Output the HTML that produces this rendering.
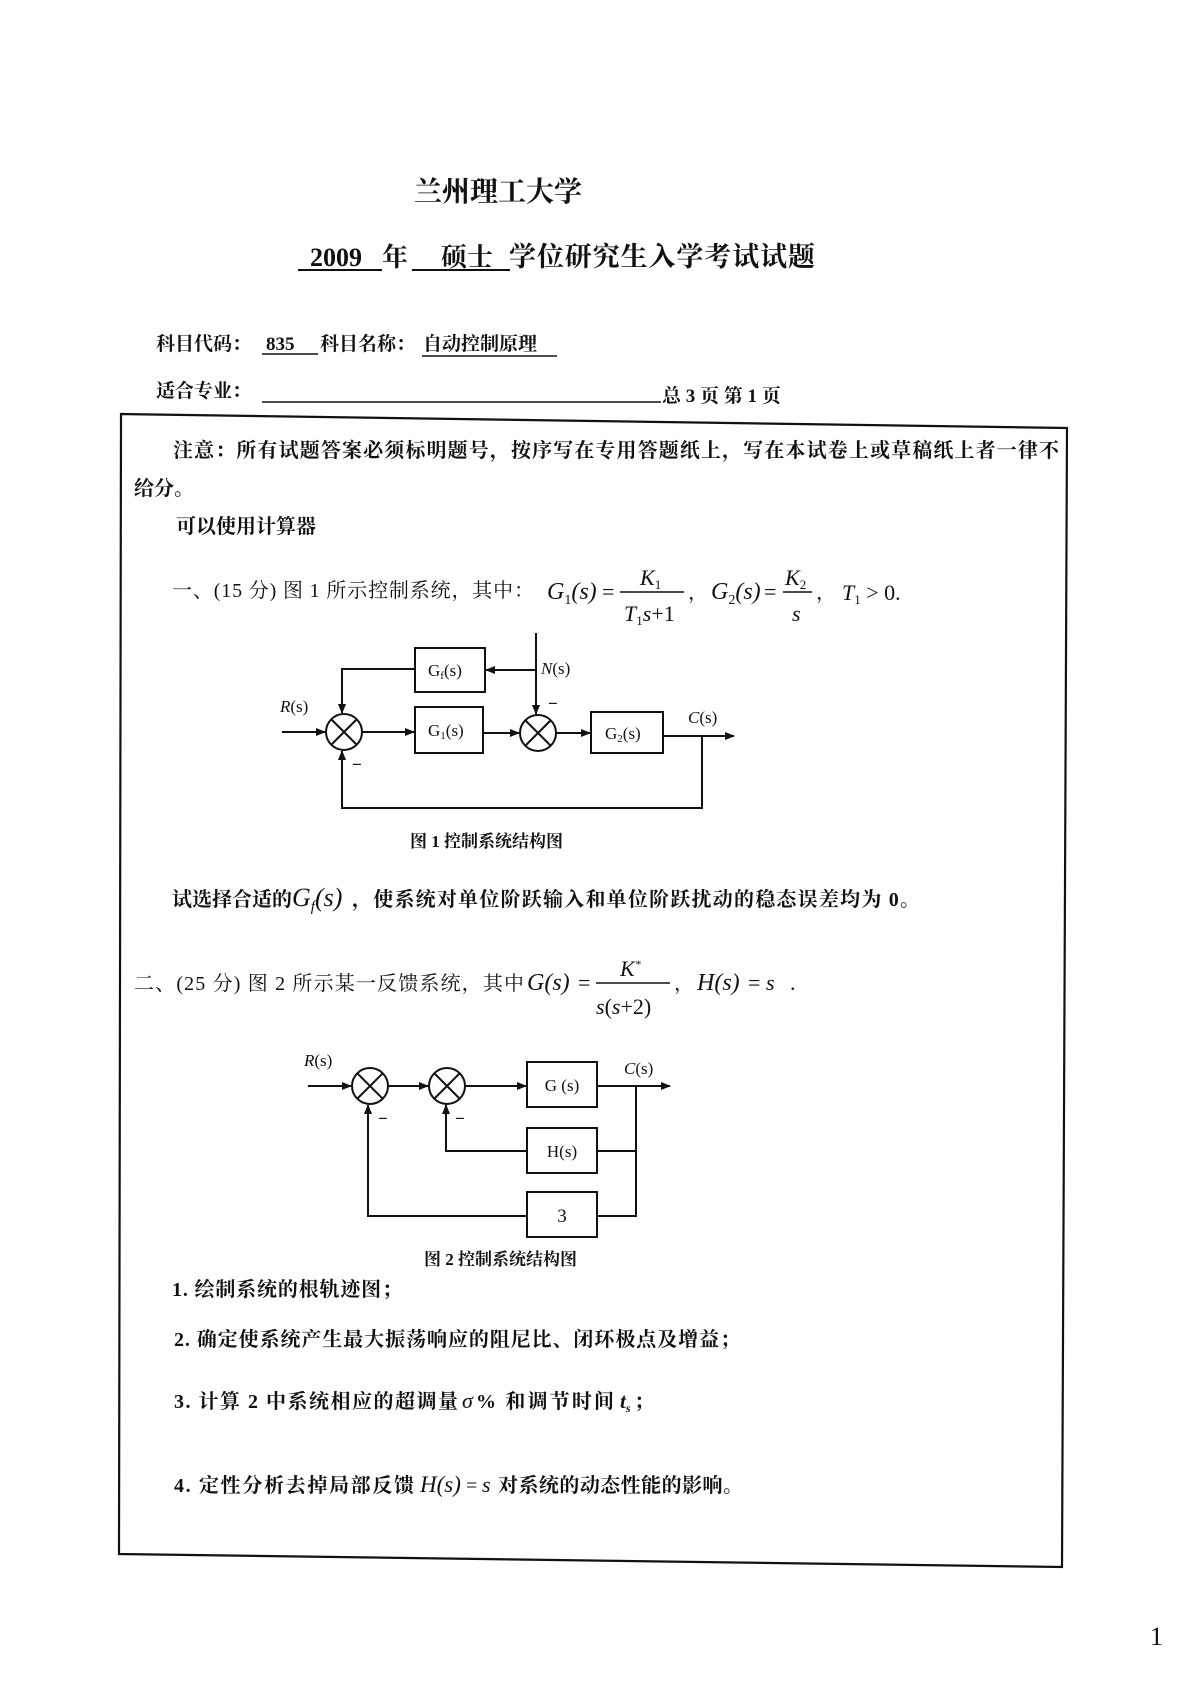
<!DOCTYPE html>
<html><head><meta charset="utf-8"><style>
html,body{margin:0;padding:0;background:#fff}
svg{display:block}
text{font-family:"Liberation Serif","Noto Serif CJK SC","Noto Sans CJK SC",serif;fill:#111}
.b{font-weight:bold}
.m{font-family:"Liberation Serif",serif;font-style:italic}
</style></head><body>
<svg width="1190" height="1683" viewBox="0 0 1190 1683" xmlns="http://www.w3.org/2000/svg">
<defs><marker id="a" markerWidth="10" markerHeight="10" refX="9" refY="5" orient="auto" markerUnits="userSpaceOnUse"><path d="M0,1 L10,5 L0,9 z" fill="#111"/></marker></defs>
<rect x="0" y="0" width="1190" height="1683" fill="#fff"/>
<g class="b">
<text x="498" y="201" font-size="28" text-anchor="middle">兰州理工大学</text>
<text x="310" y="266" font-size="26">2009</text>
<text x="382" y="266" font-size="26">年</text>
<text x="441" y="266" font-size="26">硕士</text>
<text x="509" y="266" font-size="27" textLength="306">学位研究生入学考试试题</text>
</g>
<g stroke="#111" stroke-width="2"><line x1="298" y1="270" x2="382" y2="270"/><line x1="412" y1="270" x2="510" y2="270"/></g>
<g font-size="19" class="b">
<text x="156" y="350">科目代码：</text><text x="266" y="350">835</text><text x="320" y="350">科目名称：</text><text x="423" y="350">自动控制原理</text>
<text x="156" y="397">适合专业：</text><text x="662" y="402">总 3 页  第 1 页</text>
</g>
<g stroke="#111" stroke-width="1.6"><line x1="262" y1="354" x2="318" y2="354"/><line x1="422" y1="356" x2="557" y2="356"/><line x1="262" y1="402" x2="661" y2="402"/></g>
<path d="M121,414 L1067,428 L1062,1567 L119,1554 Z" fill="none" stroke="#111" stroke-width="2.2"/>
<g font-size="20" class="b">
<text x="173" y="457" textLength="886">注意：所有试题答案必须标明题号，按序写在专用答题纸上，写在本试卷上或草稿纸上者一律不</text>
<text x="134" y="495">给分。</text>
<text x="176" y="533">可以使用计算器</text>
</g>
<g font-size="20">
<text x="172" y="597" textLength="362">一、(15 分) 图 1 所示控制系统，其中：</text>
<text x="547" y="599" class="m" font-size="24">G<tspan font-size="14" font-style="normal" dy="5">1</tspan><tspan dy="-5">(s)</tspan></text>
<text x="602" y="599" font-size="22">=</text>
<line x1="620" y1="592" x2="684" y2="592" stroke="#111" stroke-width="1.5"/>
<text x="640" y="585" class="m" font-size="22">K<tspan font-size="13" font-style="normal" dy="4">1</tspan></text>
<text x="624" y="621" class="m" font-size="22">T<tspan font-size="13" font-style="normal" dy="4">1</tspan><tspan dy="-4">s</tspan><tspan font-style="normal">+1</tspan></text>
<text x="688" y="599">，</text>
<text x="711" y="599" class="m" font-size="24">G<tspan font-size="14" font-style="normal" dy="5">2</tspan><tspan dy="-5">(s)</tspan></text>
<text x="764" y="599" font-size="22">=</text>
<line x1="783" y1="592" x2="812" y2="592" stroke="#111" stroke-width="1.5"/>
<text x="785" y="585" class="m" font-size="22">K<tspan font-size="13" font-style="normal" dy="4">2</tspan></text>
<text x="792" y="621" class="m" font-size="22">s</text>
<text x="816" y="599">，</text>
<text x="842" y="600" class="m" font-size="22">T<tspan font-size="13" font-style="normal" dy="4">1</tspan><tspan dy="-4" font-style="normal"> &gt; 0.</tspan></text>
</g>
<!-- Diagram 1 -->
<g stroke="#111" stroke-width="2" fill="none">
<rect x="415" y="648" width="70" height="44"/>
<rect x="415" y="707" width="68" height="46"/>
<rect x="591" y="712" width="72" height="41"/>
<circle cx="344" cy="732" r="18"/><path d="M331,719 L357,745 M357,719 L331,745"/>
<circle cx="538" cy="733" r="18"/><path d="M525,720 L551,746 M551,720 L525,746"/>
<line x1="282" y1="732" x2="325" y2="732" marker-end="url(#a)"/>
<line x1="362" y1="732" x2="414" y2="732" marker-end="url(#a)"/>
<line x1="483" y1="733" x2="519" y2="733" marker-end="url(#a)"/>
<line x1="556" y1="733" x2="590" y2="733" marker-end="url(#a)"/>
<line x1="663" y1="736" x2="734" y2="736" marker-end="url(#a)"/>
<line x1="536" y1="633" x2="536" y2="714" marker-end="url(#a)"/>
<line x1="536" y1="670" x2="486" y2="670" marker-end="url(#a)"/>
<polyline points="415,669 342,669 342,713" marker-end="url(#a)"/>
<polyline points="702,736 702,808 342,808 342,751" marker-end="url(#a)"/>
</g>
<g font-size="17">
<text x="428" y="676">G<tspan font-size="11" dy="3">f</tspan><tspan dy="-3">(s)</tspan></text>
<text x="428" y="736">G<tspan font-size="11" dy="3">1</tspan><tspan dy="-3">(s)</tspan></text>
<text x="605" y="739">G<tspan font-size="11" dy="3">2</tspan><tspan dy="-3">(s)</tspan></text>
<text x="541" y="674" class="m">N<tspan font-style="normal">(s)</tspan></text>
<text x="280" y="712" class="m">R<tspan font-style="normal">(s)</tspan></text>
<text x="688" y="723" class="m">C<tspan font-style="normal">(s)</tspan></text>
<text x="548" y="709" class="b">−</text>
<text x="352" y="770" class="b">−</text>
<text x="410" y="847" class="b" font-size="17">图 1   控制系统结构图</text>
</g>
<g font-size="20" class="b">
<text x="172" y="906">试选择合适的</text>
<text x="292" y="906" class="m" font-size="26" font-weight="normal">G<tspan font-size="15" dy="5">f</tspan><tspan dy="-5">(s)</tspan></text>
<text x="352" y="906" textLength="568">，使系统对单位阶跃输入和单位阶跃扰动的稳态误差均为 0。</text>
</g>
<g font-size="20">
<text x="134" y="990" textLength="390">二、(25 分) 图 2 所示某一反馈系统，其中</text>
<text x="527" y="990" class="m" font-size="24">G(s)</text>
<text x="578" y="990" font-size="22">=</text>
<line x1="596" y1="983" x2="670" y2="983" stroke="#111" stroke-width="1.5"/>
<text x="620" y="976" class="m" font-size="22">K<tspan font-size="12" dy="-8">*</tspan></text>
<text x="596" y="1014" class="m" font-size="22">s<tspan font-style="normal">(</tspan>s<tspan font-style="normal">+2)</tspan></text>
<text x="674" y="990">，</text>
<text x="697" y="990" class="m" font-size="24">H(s)</text>
<text x="748" y="990" font-size="22">=</text>
<text x="766" y="990" class="m" font-size="22">s</text>
<text x="790" y="990" font-size="22">.</text>
</g>
<!-- Diagram 2 -->
<g stroke="#111" stroke-width="2" fill="none">
<rect x="527" y="1062" width="70" height="45"/>
<rect x="527" y="1128" width="70" height="45"/>
<rect x="527" y="1192" width="70" height="45"/>
<circle cx="370" cy="1086" r="18"/><path d="M357,1073 L383,1099 M383,1073 L357,1099"/>
<circle cx="447" cy="1086" r="18"/><path d="M434,1073 L460,1099 M460,1073 L434,1099"/>
<line x1="308" y1="1086" x2="351" y2="1086" marker-end="url(#a)"/>
<line x1="388" y1="1086" x2="428" y2="1086" marker-end="url(#a)"/>
<line x1="465" y1="1086" x2="526" y2="1086" marker-end="url(#a)"/>
<line x1="597" y1="1086" x2="670" y2="1086" marker-end="url(#a)"/>
<polyline points="636,1086 636,1216 597,1216"/>
<line x1="636" y1="1151" x2="597" y2="1151"/>
<polyline points="527,1151 446,1151 446,1105" marker-end="url(#a)"/>
<polyline points="527,1216 368,1216 368,1105" marker-end="url(#a)"/>
</g>
<g font-size="17">
<text x="562" y="1091" text-anchor="middle">G (s)</text>
<text x="562" y="1157" text-anchor="middle">H(s)</text>
<text x="562" y="1222" text-anchor="middle" font-size="19">3</text>
<text x="304" y="1066" class="m">R<tspan font-style="normal">(s)</tspan></text>
<text x="624" y="1074" class="m">C<tspan font-style="normal">(s)</tspan></text>
<text x="378" y="1124" class="b">−</text>
<text x="455" y="1124" class="b">−</text>
<text x="424" y="1265" class="b" font-size="17">图 2  控制系统结构图</text>
</g>
<g font-size="20" class="b">
<text x="172" y="1296" textLength="230">1.  绘制系统的根轨迹图；</text>
<text x="174" y="1346" textLength="566">2.  确定使系统产生最大振荡响应的阻尼比、闭环极点及增益；</text>
<text x="174" y="1408" textLength="284">3.  计算 2 中系统相应的超调量</text>
<text x="462" y="1408" class="m" font-weight="normal" font-size="22">σ</text>
<text x="476" y="1408" textLength="138">% 和调节时间</text>
<text x="620" y="1408" class="m" font-size="21">t<tspan font-size="12" dy="4">s</tspan></text>
<text x="634" y="1408">；</text>
<text x="174" y="1492" textLength="240">4.  定性分析去掉局部反馈</text>
<text x="420" y="1492" class="m" font-weight="normal" font-size="23">H(s)</text>
<text x="466" y="1492" font-weight="normal">=</text>
<text x="482" y="1492" class="m" font-weight="normal" font-size="22">s</text>
<text x="498" y="1492" textLength="245">对系统的动态性能的影响。</text>
</g>
<text x="1150" y="1645" font-size="26">1</text>
</svg>
</body></html>
